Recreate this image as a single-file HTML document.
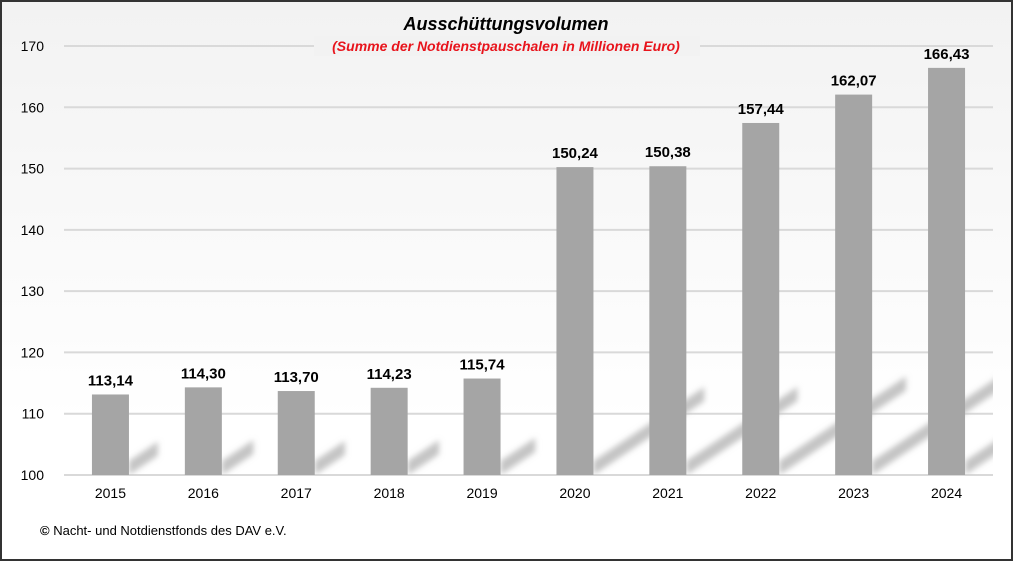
<!DOCTYPE html>
<html><head><meta charset="utf-8"><style>
html,body{margin:0;padding:0;background:#fff}
svg{display:block;font-family:"Liberation Sans",Arial,sans-serif}
</style></head><body>
<svg id="chart" width="1013" height="561" viewBox="0 0 1013 561">
<defs>
<linearGradient id="bg" x1="0" y1="0" x2="0" y2="1"><stop offset="0" stop-color="#f2f2f2"/><stop offset="0.75" stop-color="#ffffff"/><stop offset="1" stop-color="#ffffff"/></linearGradient>
<filter id="blur" x="-20%" y="-20%" width="140%" height="140%"><feGaussianBlur stdDeviation="3"/></filter>
<clipPath id="plotclip"><rect x="64" y="30" width="929" height="445"/></clipPath>
</defs>
<rect x="1" y="1" width="1011" height="559" fill="url(#bg)" stroke="#333" stroke-width="2"/>
<g id="grid"></g>
<rect x="314" y="36" width="386" height="20" fill="#f2f2f2"/>
<text x="506" y="30" text-anchor="middle" font-size="18" font-weight="bold" font-style="italic" fill="#000">Ausschüttungsvolumen</text>
<text x="506" y="51" text-anchor="middle" font-size="14" font-weight="bold" font-style="italic" fill="#e8141c">(Summe der Notdienstpauschalen in Millionen Euro)</text>
<g id="shadows" clip-path="url(#plotclip)" filter="url(#blur)"></g>
<g id="bars"></g>
<text x="40" y="535" font-size="13" fill="#000"><tspan font-weight="bold">©</tspan> Nacht- und Notdienstfonds  des DAV e.V.</text>
</svg>
<script>
const categories = ["2015","2016","2017","2018","2019","2020","2021","2022","2023","2024"];
const values = [113.14,114.30,113.70,114.23,115.74,150.24,150.38,157.44,162.07,166.43];
const valueLabels = ["113,14","114,30","113,70","114,23","115,74","150,24","150,38","157,44","162,07","166,43"];
const yTicks = [100,110,120,130,140,150,160,170];

const NS="http://www.w3.org/2000/svg";
const yMin=100,yMax=170,yTop=46,yBot=475,xL=64,xR=993;
const y=v=>yBot-(v-yMin)/(yMax-yMin)*(yBot-yTop);
const step=(xR-xL)/categories.length;
const xc=i=>xL+step*(i+0.5);
const bw=37;
function mk(t,a){const e=document.createElementNS(NS,t);for(const k in a)e.setAttribute(k,a[k]);return e;}
const grid=document.getElementById('grid'),bars=document.getElementById('bars'),sh=document.getElementById('shadows');
yTicks.forEach(t=>{
  const l=mk('line',{x1:xL,x2:xR,y1:y(t),y2:y(t),stroke:'#d9d9d9','stroke-width':2});
  
  
  grid.appendChild(l);
  const tx=mk('text',{x:44,y:y(t)+5,'text-anchor':'end','font-size':14,fill:'#000'});
  tx.textContent=t;
  
  
  grid.appendChild(tx);
});
categories.forEach((c,i)=>{
  const x=xc(i),top=y(values[i]),h=yBot-top;
  const xr=x+bw/2, dx=h*0.36, dy=h*0.24;
  const p=mk('polygon',{points:`${xr},${yBot} ${xr+dx},${yBot-dy} ${xr+dx},${yBot-dy-14} ${xr},${yBot-14}`,fill:'#c4c4c4'});
  
  
  sh.appendChild(p);
  const r=mk('rect',{x:x-bw/2,y:top,width:bw,height:h,fill:'#a5a5a5'});
  
  
  bars.appendChild(r);
  const vl=mk('text',{x:x,y:top-9,'text-anchor':'middle','font-size':15,'font-weight':'bold',fill:'#000'});
  vl.textContent=valueLabels[i];
  
  
  bars.appendChild(vl);
  const xl=mk('text',{x:x,y:498,'text-anchor':'middle','font-size':14,fill:'#000'});
  xl.textContent=c;
  
  
  bars.appendChild(xl);
});
</script>
</body></html>
